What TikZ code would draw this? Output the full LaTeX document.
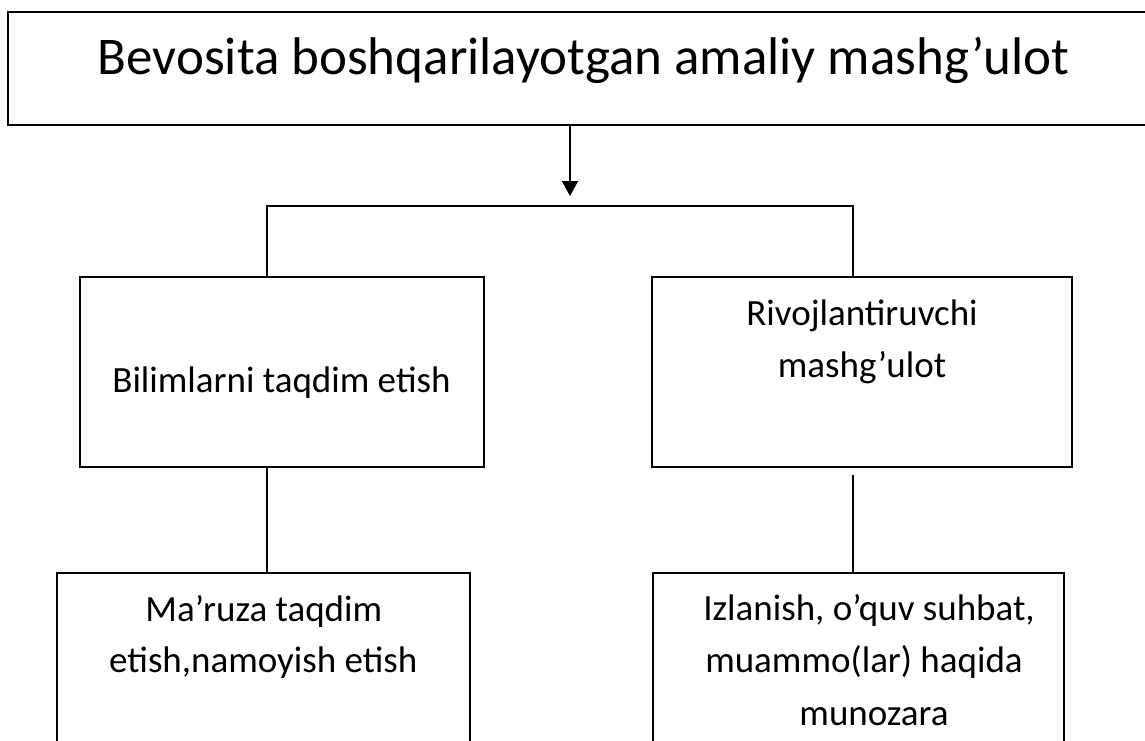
\documentclass[tikz,border=0pt]{standalone}
\usepackage{fontspec}
\setmainfont{Carlito}
\usetikzlibrary{arrows.meta}
\begin{document}
\begin{tikzpicture}[x=1pt,y=-1pt,
  box/.style={draw, line width=1.6pt, inner sep=0pt, fill=none},
  conn/.style={draw, line width=1.4pt},
  big/.style={anchor=base, inner sep=0pt, font=\fontsize{53}{60}\selectfont},
  txt/.style={anchor=base, inner sep=0pt, font=\fontsize{37}{52}\selectfont}]
\useasboundingbox (0,0) rectangle (1145,740);
\clip (0,0) rectangle (1145,740);
\fill[white] (0,0) rectangle (1145,740);
% boxes
\node[box, minimum width=1152pt, minimum height=113pt] (top) at (584,68.5) {};
\node[box, minimum width=404pt, minimum height=190pt] (left) at (282,372) {};
\node[box, minimum width=420pt, minimum height=190pt] (right) at (862,372) {};
\node[box, minimum width=413pt, minimum height=227pt] (bl) at (263.5,686.5) {};
\node[box, minimum width=411pt, minimum height=227pt] (br) at (858.5,686.5) {};
% texts
\node[big] (ttop) at (583.5,74) {Bevosita boshqarilayotgan amaliy mashg’ulot};
\node[txt] (tleft) at (281.5,392) {Bilimlarni taqdim etish};
\node[txt] (tright1) at (862,325) {Rivojlantiruvchi};
\node[txt] (tright2) at (862,377) {mashg’ulot};
\node[txt] (tbl1) at (263.8,621) {Ma’ruza taqdim};
\node[txt] (tbl2) at (263.3,672) {etish,namoyish etish};
\node[txt] (tbr1) at (869,620) {Izlanish, o’quv suhbat,};
\node[txt] (tbr2) at (864,672) {muammo(lar) haqida};
\node[txt] (tbr3) at (874,725) {munozara};
% connectors
\coordinate (arrtop) at (570,125);
\coordinate (arrend) at (570,196);
\draw[conn, -{Triangle[width=16pt,length=15pt]}] (arrtop) -- (arrend);
\coordinate (hl) at (267,206);
\coordinate (hr) at (853,206);
\draw[conn] (left.north -| hl) -- (hl) -- (hr) -- (right.north -| hr);
\draw[conn] (left.south -| hl) -- (bl.north -| hl);
\coordinate (rstart) at (853,475);
\draw[conn] (rstart) -- (br.north -| rstart);
\end{tikzpicture}
\end{document}
